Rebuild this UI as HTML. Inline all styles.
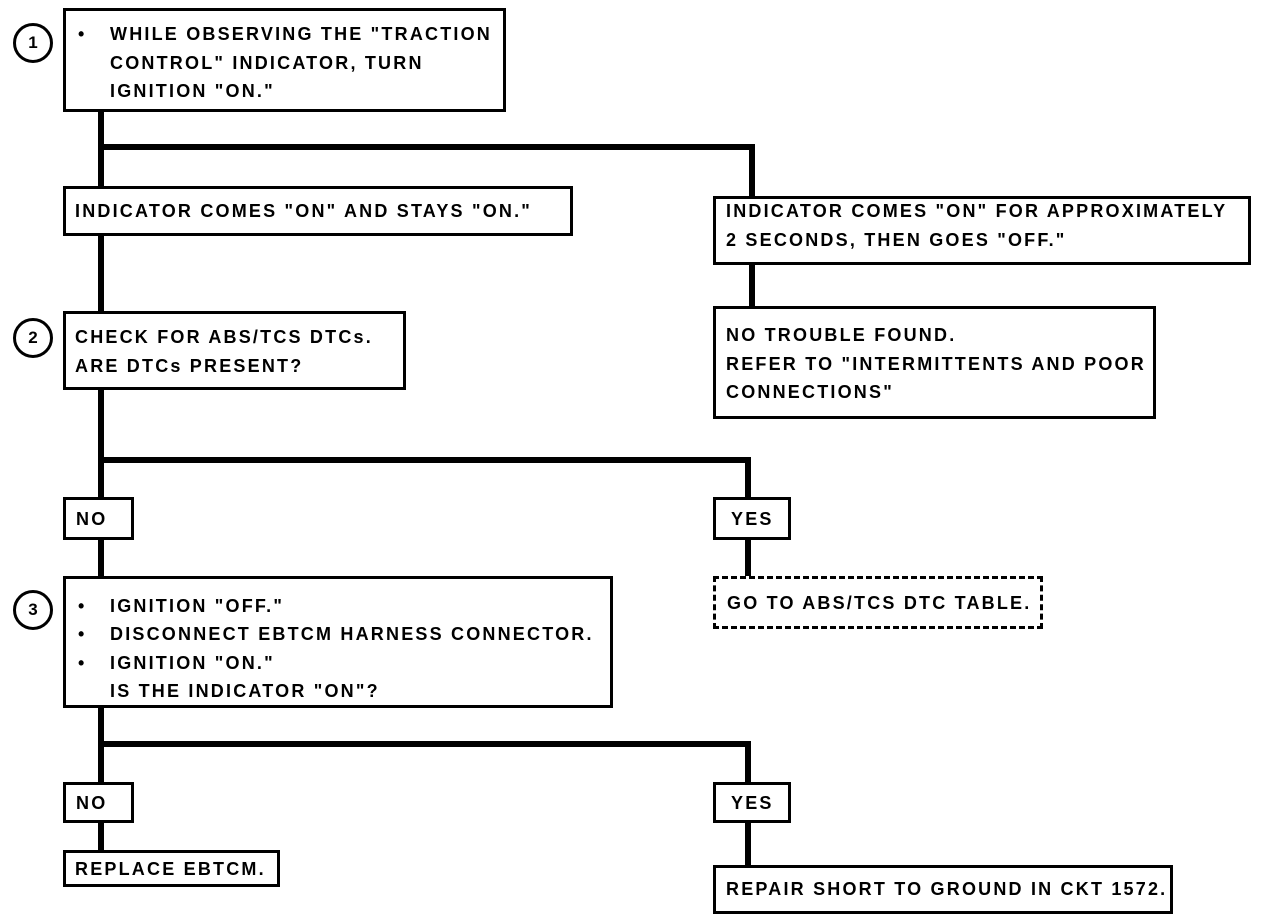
<!DOCTYPE html>
<html><head><meta charset="utf-8"><style>
body{margin:0;background:#fff;width:1264px;height:922px;position:relative;overflow:hidden;font-family:"Liberation Sans",sans-serif;font-weight:bold;}
.b{position:absolute;border:3px solid #000;box-sizing:border-box;background:#fff;}
.t{position:absolute;white-space:nowrap;font-size:18px;letter-spacing:2.2px;line-height:18px;color:#000;}
.l{position:absolute;background:#000;}
.c{position:absolute;width:40px;height:40px;border:3px solid #000;border-radius:50%;box-sizing:border-box;text-align:center;line-height:34px;font-size:17px;}
.d{border-style:dashed;}
</style></head><body>
<!-- connectors -->
<div class="l" style="left:98px;top:110px;width:6px;height:470px"></div>
<div class="l" style="left:98px;top:144px;width:657px;height:6px"></div>
<div class="l" style="left:749px;top:144px;width:6px;height:64px"></div>
<div class="l" style="left:749px;top:262px;width:6px;height:46px"></div>
<div class="l" style="left:98px;top:457px;width:653px;height:6px"></div>
<div class="l" style="left:745px;top:457px;width:6px;height:42px"></div>
<div class="l" style="left:745px;top:537px;width:6px;height:42px"></div>
<div class="l" style="left:98px;top:705px;width:6px;height:147px"></div>
<div class="l" style="left:98px;top:741px;width:653px;height:6px"></div>
<div class="l" style="left:745px;top:741px;width:6px;height:43px"></div>
<div class="l" style="left:745px;top:820px;width:6px;height:47px"></div>

<div class="c" style="left:13px;top:23px">1</div>
<div class="c" style="left:13px;top:318px">2</div>
<div class="c" style="left:13px;top:590px">3</div>

<div class="b" style="left:63px;top:8px;width:443px;height:104px"></div>
<div class="t" style="left:78px;top:20px;line-height:28.5px">•</div>
<div class="t" style="left:110px;top:20px;line-height:28.5px">WHILE OBSERVING THE "TRACTION<br>CONTROL" INDICATOR, TURN<br>IGNITION "ON."</div>

<div class="b" style="left:63px;top:186px;width:510px;height:50px"></div>
<div class="t" style="left:75px;top:202px">INDICATOR COMES "ON" AND STAYS "ON."</div>

<div class="b" style="left:713px;top:196px;width:538px;height:69px"></div>
<div class="t" style="left:726px;top:197px;line-height:29px">INDICATOR COMES "ON" FOR APPROXIMATELY<br>2 SECONDS, THEN GOES "OFF."</div>

<div class="b" style="left:713px;top:306px;width:443px;height:113px"></div>
<div class="t" style="left:726px;top:321px;line-height:28.5px">NO TROUBLE FOUND.<br>REFER TO "INTERMITTENTS AND POOR<br>CONNECTIONS"</div>

<div class="b" style="left:63px;top:311px;width:343px;height:79px"></div>
<div class="t" style="left:75px;top:323px;line-height:29px">CHECK FOR ABS/TCS DTCs.<br>ARE DTCs PRESENT?</div>

<div class="b" style="left:63px;top:497px;width:71px;height:43px"></div>
<div class="t" style="left:76px;top:510px">NO</div>
<div class="b" style="left:713px;top:497px;width:78px;height:43px"></div>
<div class="t" style="left:731px;top:510px">YES</div>

<div class="b d" style="left:713px;top:576px;width:330px;height:53px"></div>
<div class="t" style="left:727px;top:594px">GO TO ABS/TCS DTC TABLE.</div>

<div class="b" style="left:63px;top:576px;width:550px;height:132px"></div>
<div class="t" style="left:78px;top:592px;line-height:28.3px">•<br>•<br>•</div>
<div class="t" style="left:110px;top:592px;line-height:28.3px">IGNITION "OFF."<br>DISCONNECT EBTCM HARNESS CONNECTOR.<br>IGNITION "ON."<br>IS THE INDICATOR "ON"?</div>

<div class="b" style="left:63px;top:782px;width:71px;height:41px"></div>
<div class="t" style="left:76px;top:794px">NO</div>
<div class="b" style="left:713px;top:782px;width:78px;height:41px"></div>
<div class="t" style="left:731px;top:794px">YES</div>

<div class="b" style="left:63px;top:850px;width:217px;height:37px"></div>
<div class="t" style="left:75px;top:860px">REPLACE EBTCM.</div>

<div class="b" style="left:713px;top:865px;width:460px;height:49px"></div>
<div class="t" style="left:726px;top:880px">REPAIR SHORT TO GROUND IN CKT 1572.</div>
</body></html>
